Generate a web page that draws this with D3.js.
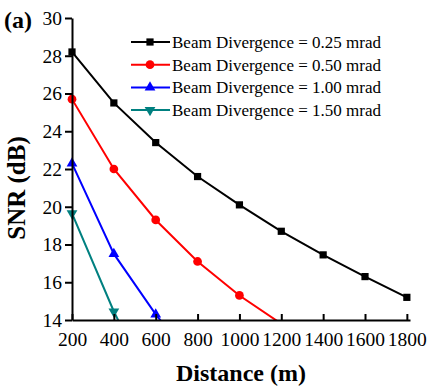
<!DOCTYPE html>
<html>
<head>
<meta charset="utf-8">
<script src="https://cdn.jsdelivr.net/npm/d3@7"></script>
<style>
  body { margin: 0; background: #fff; }
  svg { display: block; font-family: "Liberation Serif", "Times New Roman", serif; }
</style>
</head>
<body>
<div id="chart"></div>
<script>
// data
const distances = [200, 400, 600, 800, 1000, 1200, 1400, 1600, 1800];
const snr025 = [28.2, 25.5, 23.4, 21.6, 20.1, 18.7, 17.45, 16.3, 15.2];
const snr050 = [25.7, 22.0, 19.3, 17.1, 15.3, 13.8];
const snr100 = [22.3, 17.5, 14.3, 11.5];
const snr150 = [19.65, 14.45, 10.0];
const seriesLabels = ["Beam Divergence = 0.25 mrad", "Beam Divergence = 0.50 mrad",
                      "Beam Divergence = 1.00 mrad", "Beam Divergence = 1.50 mrad"];
const xTicks = [200, 400, 600, 800, 1000, 1200, 1400, 1600, 1800];
const yTicks = [14, 16, 18, 20, 22, 24, 26, 28, 30];

const w = 428, h = 391;
const mLeft = 72, mRight = 410, mTop = 18, mBottom = 320;

const svg = d3.select("#chart").append("svg").attr("width", w).attr("height", h);

const x = d3.scaleLinear().domain([200, 1815]).range([mLeft, mRight]);
const y = d3.scaleLinear().domain([14, 30]).range([mBottom, mTop]);

// clip so lines stop at the x axis
svg.append("clipPath").attr("id", "plot")
  .append("rect").attr("x", mLeft).attr("y", mTop).attr("width", mRight - mLeft).attr("height", mBottom - mTop);

const series = [
  { vals: snr025, color: "#000000", shape: d3.symbolSquare, size: 52 },
  { vals: snr050, color: "#ff0000", shape: d3.symbolCircle, size: 60 },
  { vals: snr100, color: "#0000ff", shape: d3.symbolTriangle, size: 50 },
  { vals: snr150, color: "#008080", shape: d3.symbolTriangle, size: 50, flip: true }
];

const line = d3.line().x((d, i) => x(distances[i])).y(d => y(d));

const g = svg.append("g").attr("clip-path", "url(#plot)");
series.forEach(s => {
  g.append("path").datum(s.vals)
    .attr("fill", "none").attr("stroke", s.color).attr("stroke-width", 2)
    .attr("d", line);
});
series.forEach(s => {
  svg.append("g").selectAll("path")
    .data(s.vals.map((v, i) => [distances[i], v]).filter(d => d[1] >= 14))
    .join("path")
    .attr("d", d3.symbol().type(s.shape).size(s.size))
    .attr("transform", d => `translate(${x(d[0])},${y(d[1])})${s.flip ? " rotate(180)" : ""}`)
    .attr("fill", s.color);
});

// axes
const xAxis = svg.append("g").attr("transform", `translate(0,${mBottom})`)
  .call(d3.axisBottom(x).tickValues(xTicks).tickFormat(d3.format("d"))
    .tickSizeInner(-6).tickSizeOuter(0).tickPadding(12));
const yAxis = svg.append("g").attr("transform", `translate(${mLeft},0)`)
  .call(d3.axisLeft(y).tickValues(yTicks).tickSizeInner(7).tickSizeOuter(0).tickPadding(3));
[xAxis, yAxis].forEach(a => {
  a.selectAll("path.domain").attr("stroke", "#000").attr("stroke-width", 2);
  a.selectAll(".tick line").attr("stroke", "#000").attr("stroke-width", 2);
  a.selectAll("text").attr("fill", "#000")
    .style("font-family", "'Liberation Serif', serif").style("font-size", "19.5px");
});
xAxis.selectAll("text").attr("dy", "0.71em");

// legend
const legend = svg.append("g");
series.forEach((s, i) => {
  const ly = 42 + i * 22.7;
  legend.append("line").attr("x1", 131).attr("x2", 170).attr("y1", ly).attr("y2", ly)
    .attr("stroke", s.color).attr("stroke-width", 2);
  legend.append("path").attr("d", d3.symbol().type(s.shape).size(s.size)())
    .attr("transform", `translate(150,${ly})${s.flip ? " rotate(180)" : ""}`)
    .attr("fill", s.color);
  legend.append("text").attr("x", 172).attr("y", ly).attr("dy", "0.35em")
    .style("font-size", "17px").text(seriesLabels[i]);
});

// titles
svg.append("text").attr("x", 4).attr("y", 28)
  .style("font-size", "24px").style("font-weight", "bold").text("(a)");
svg.append("text").attr("transform", `translate(25,188) rotate(-90)`)
  .attr("text-anchor", "middle")
  .style("font-size", "25px").style("font-weight", "bold").text("SNR (dB)");
svg.append("text").attr("x", 241).attr("y", 381).attr("text-anchor", "middle")
  .style("font-size", "24px").style("font-weight", "bold").text("Distance (m)");
</script>
</body>
</html>
